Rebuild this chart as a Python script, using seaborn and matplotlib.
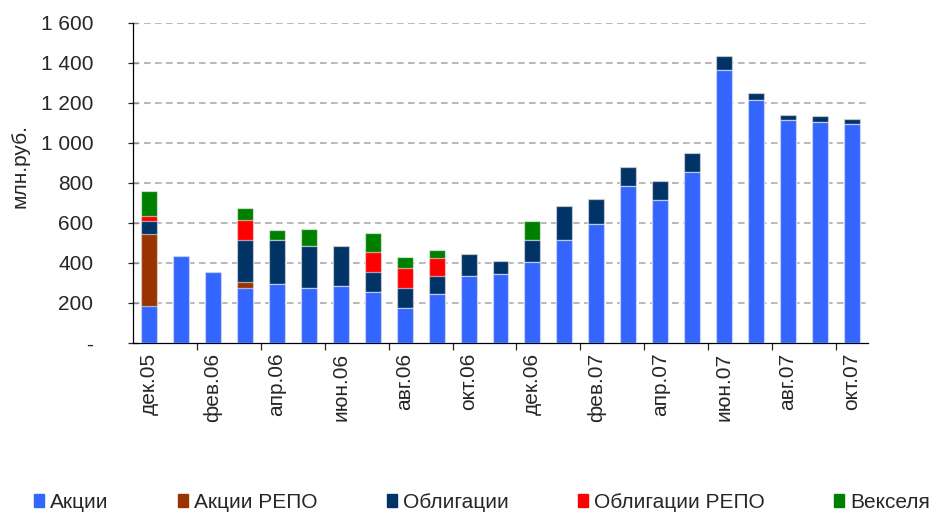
import matplotlib
matplotlib.use("Agg")
import matplotlib.pyplot as plt
import matplotlib.patches as mpatches
from matplotlib.ticker import FuncFormatter
import pandas as pd
import seaborn as sns

MONTHS = [
    "дек.05", "янв.06", "фев.06", "мар.06", "апр.06", "май.06", "июн.06",
    "июл.06", "авг.06", "сен.06", "окт.06", "ноя.06", "дек.06", "янв.07",
    "фев.07", "мар.07", "апр.07", "май.07", "июн.07", "июл.07", "авг.07",
    "сен.07", "окт.07",
]

# млн.руб. по видам бумаг (снизу вверх)
akcii = [183, 433, 353, 275, 295, 277, 283, 253, 175, 243, 337, 345, 405,
         515, 595, 785, 715, 853, 1365, 1213, 1113, 1105, 1093]
akcii_repo = [362, 0, 0, 28, 0, 0, 0, 0, 0, 0, 0, 0, 0,
              0, 0, 0, 0, 0, 0, 0, 0, 0, 0]
obligacii = [66, 0, 0, 210, 218, 206, 200, 102, 100, 92, 106, 67, 110,
             168, 127, 97, 97, 99, 68, 39, 29, 28, 29]
obligacii_repo = [25, 0, 0, 100, 0, 0, 0, 100, 100, 90, 0, 0, 0,
                  0, 0, 0, 0, 0, 0, 0, 0, 0, 0]
vekselya = [125, 0, 0, 60, 50, 89, 0, 96, 56, 38, 0, 0, 96,
            0, 0, 0, 0, 0, 0, 0, 0, 0, 0]

SERIES = [
    ("Акции", akcii, "#3366ff"),
    ("Акции РЕПО", akcii_repo, "#993300"),
    ("Облигации", obligacii, "#003366"),
    ("Облигации РЕПО", obligacii_repo, "#ff0000"),
    ("Векселя", vekselya, "#008000"),
]

Y_TICKS = list(range(0, 1601, 200))
FS = 15


def fmt_thousands(v, _pos):
    if v == 0:
        return "-"
    return f"{int(v):,}".replace(",", " ")


def main() -> None:
    sns.set_style("white")
    plt.rcParams["font.family"] = ["Liberation Sans", "DejaVu Sans"]

    fig = plt.figure(figsize=(9.36, 5.13), dpi=100)
    ax = fig.add_axes([133 / 936, 1 - 343 / 513, (868 - 133) / 936, 320 / 513])

    df = pd.DataFrame({"month": MONTHS})
    cum = [0] * len(MONTHS)
    for name, vals, _ in SERIES:
        cum = [c + v for c, v in zip(cum, vals)]
        df[name] = cum

    # стопка: рисуем накопленные суммы сверху вниз
    for name, _, color in reversed(SERIES):
        sns.barplot(data=df, x="month", y=name, order=MONTHS, color=color,
                    saturation=1, width=0.5, edgecolor=(1, 1, 1, 0.55),
                    linewidth=0.9, ax=ax, zorder=3)

    ax.set_xlim(-0.5, len(MONTHS) - 0.5)
    ax.set_ylim(0, 1600)
    ax.set_yticks(Y_TICKS)
    ax.yaxis.set_major_formatter(FuncFormatter(fmt_thousands))
    ax.tick_params(axis="y", direction="inout", length=7, width=0.9,
                   labelsize=FS, pad=25, left=True)
    for y in Y_TICKS[1:]:
        ax.axhline(y, color="#a6a6a6", linewidth=1.1, dashes=(4.3, 2.9), zorder=1)

    ax.set_xticks(range(0, len(MONTHS), 2))
    ax.set_xticklabels(MONTHS[::2], rotation=90, fontsize=FS)
    ax.set_xticks([i + 0.5 for i in range(1, len(MONTHS) - 1, 2)], minor=True)
    ax.tick_params(axis="x", which="major", length=0, pad=7)
    ax.tick_params(axis="x", which="minor", direction="out", length=5,
                   width=0.9, bottom=True)

    ax.set_xlabel("")
    ax.set_ylabel("")
    fig.text(20 / 936, 1 - 166 / 513, "млн.руб.", rotation=90,
             ha="center", va="center", fontsize=FS)

    for side in ["top", "right"]:
        ax.spines[side].set_visible(False)
    for side in ["left", "bottom"]:
        ax.spines[side].set_color("black")
        ax.spines[side].set_linewidth(0.9)

    handles = [mpatches.Patch(color=c, label=n) for n, _, c in SERIES]
    fig.legend(handles=handles, loc="center", bbox_to_anchor=(0.515, 1 - 502 / 513),
               ncol=5, frameon=False, fontsize=FS, handlelength=0.5,
               handleheight=0.6, handletextpad=0.3, columnspacing=3.3)

    fig.savefig("out.png", dpi=100)
    plt.close(fig)


if __name__ == "__main__":
    main()
